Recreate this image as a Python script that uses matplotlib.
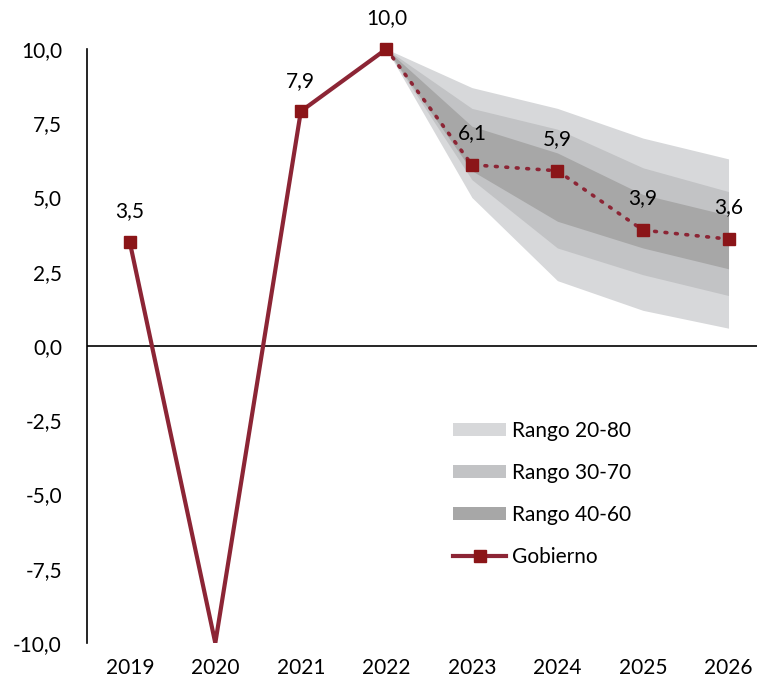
import matplotlib
matplotlib.use("Agg")
import matplotlib.pyplot as plt
from matplotlib.patches import Patch
from matplotlib.lines import Line2D

plt.rcParams['font.family'] = ['Lato', 'DejaVu Sans']

years = ['2019', '2020', '2021', '2022', '2023', '2024', '2025', '2026']

# Observed growth (2019-2022) and government projection (2022-2026)
observed = [3.5, -10.0, 7.9, 10.0]
gobierno = [10.0, 6.1, 5.9, 3.9, 3.6]

# Percentile ranges of the forecast distribution, 2022-2026
p20 = [10.0, 5.0, 2.2, 1.2, 0.6]
p30 = [10.0, 5.6, 3.3, 2.4, 1.7]
p40 = [10.0, 5.9, 4.2, 3.3, 2.6]
p60 = [10.0, 7.4, 6.5, 5.1, 4.4]
p70 = [10.0, 8.0, 7.3, 6.0, 5.2]
p80 = [10.0, 8.7, 8.0, 7.0, 6.3]

yticks = [-10.0, -7.5, -5.0, -2.5, 0.0, 2.5, 5.0, 7.5, 10.0]

line_color = '#8C2535'
marker_color = '#8B1518'
c_2080 = '#D7D8DA'
c_3070 = '#C2C3C5'
c_4060 = '#A7A7A7'
FS = 15

fig = plt.figure(figsize=(7.57, 6.88), dpi=100)
ax = fig.add_axes([87 / 757, 45 / 688, 1 - 87 / 757, 594 / 688])

x_obs = list(range(len(observed)))
x_fc = list(range(len(observed) - 1, len(years)))

ax.fill_between(x_fc, p20, p80, color=c_2080, lw=0, zorder=1)
ax.fill_between(x_fc, p30, p70, color=c_3070, lw=0, zorder=2)
ax.fill_between(x_fc, p40, p60, color=c_4060, lw=0, zorder=3)

ax.axhline(0, color='black', lw=1.2, zorder=4)

# Observed path: solid, square markers except at the 2020 trough
ax.plot(x_obs, observed, color=line_color, lw=3, zorder=5,
        solid_joinstyle='miter')
mark_idx = [i for i in x_obs if i != 1]
ax.plot(mark_idx, [observed[i] for i in mark_idx], ls='none', marker='s',
        ms=8.5, color=marker_color, zorder=7, clip_on=False)

# Projection path: dotted
ax.plot(x_fc, gobierno, color=line_color, lw=2.6, ls=(0, (0.5, 2.4)),
        dash_capstyle='round', zorder=6)
ax.plot(x_fc[1:], gobierno[1:], ls='none', marker='s', ms=8.5,
        color=marker_color, zorder=7, clip_on=False)

def fmt(v):
    return f"{v:.1f}".replace('.', ',')

for i in mark_idx:
    ax.annotate(fmt(observed[i]), (i, observed[i]), xytext=(0, 22),
                textcoords='offset points', ha='center', va='center',
                fontsize=FS, color='black', annotation_clip=False)
for i, v in zip(x_fc[1:], gobierno[1:]):
    ax.annotate(fmt(v), (i, v), xytext=(0, 23),
                textcoords='offset points', ha='center', va='center',
                fontsize=FS, color='black', annotation_clip=False)

ax.set_xlim(-0.5, 7.333)
ax.set_ylim(-10, 10)
ax.set_xticks(range(len(years)))
ax.set_xticklabels(years)
ax.set_yticks(yticks)
ax.set_yticklabels([fmt(v) for v in yticks])
ax.tick_params(axis='both', length=0, labelsize=FS, colors='black')
ax.tick_params(axis='y', pad=18)
ax.tick_params(axis='x', pad=11)

for side in ['top', 'right', 'bottom']:
    ax.spines[side].set_visible(False)
ax.spines['left'].set_color('black')
ax.spines['left'].set_linewidth(1.2)

handles = [
    Patch(facecolor=c_2080, edgecolor='none', label='Rango 20-80'),
    Patch(facecolor=c_3070, edgecolor='none', label='Rango 30-70'),
    Patch(facecolor=c_4060, edgecolor='none', label='Rango 40-60'),
    Line2D([0], [0], color=line_color, lw=3, marker='s', ms=8.5,
           markerfacecolor=marker_color, markeredgecolor=marker_color,
           label='Gobierno'),
]
leg = ax.legend(handles=handles, loc='upper left',
                bbox_to_anchor=(453 / 757, 1 - 421 / 688),
                bbox_transform=fig.transFigure,
                frameon=False, fontsize=FS, handlelength=2.55,
                handleheight=0.6, labelspacing=1.05, handletextpad=0.3,
                borderaxespad=0, borderpad=0)

fig.savefig('out.png', dpi=100)
